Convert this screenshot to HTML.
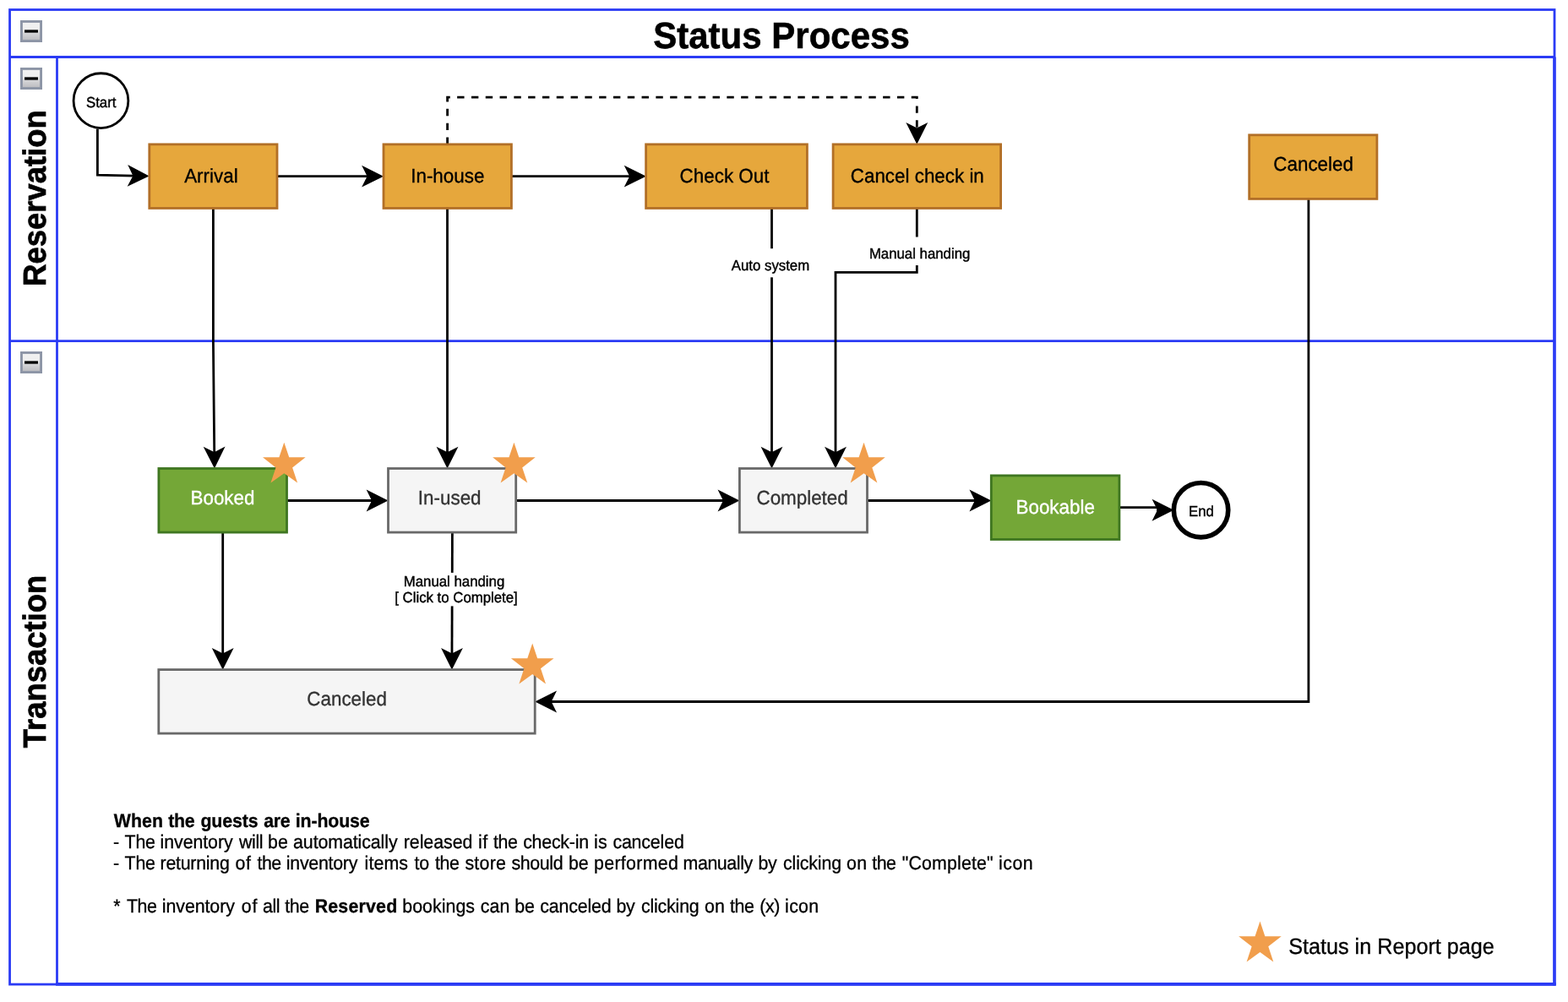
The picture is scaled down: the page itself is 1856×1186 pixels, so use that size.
<!DOCTYPE html>
<html lang="en"><head><meta charset="utf-8"><title>Status Process</title>
<style>html,body{margin:0;padding:0;background:#ffffff;overflow:hidden}svg{display:block;will-change:transform}text{font-family:"Liberation Sans", Arial, Helvetica, sans-serif;text-rendering:geometricPrecision}</style>
</head><body>
<svg xmlns="http://www.w3.org/2000/svg" width="1856" height="1186" viewBox="0 0 1856 1186">
<defs><linearGradient id="ig" x1="0" y1="0" x2="0" y2="1"><stop offset="0" stop-color="#f1f1f1"/><stop offset="0.35" stop-color="#efefef"/><stop offset="0.6" stop-color="#d6d6d8"/><stop offset="1" stop-color="#bebec2"/></linearGradient></defs>
<rect x="0" y="0" width="1856" height="1186" fill="#ffffff"/>
<g fill="none" stroke="#2b3bf5" stroke-width="2.8">
<rect x="11.55" y="11.5" width="1828.45" height="1153.6"/>
<path d="M11.55 67.5 H1840.6 M11.55 403.7 H1840 M67.5 67.5 V1165.1"/>
<path d="M1839.95 67.5 V1166.6" stroke-width="3.5"/>
<path d="M66.1 1164.85 H1841.7" stroke-width="3.6"/>
</g>
<g transform="translate(24 24)">
<rect x="0" y="0" width="26" height="26" fill="#8d95a6"/>
<rect x="2.89" y="2.89" width="20.22" height="20.22" fill="url(#ig)"/>
<rect x="5.06" y="11.35" width="15.89" height="3.29" fill="#000"/>
</g>
<g transform="translate(24 80)">
<rect x="0" y="0" width="26" height="26" fill="#8d95a6"/>
<rect x="2.89" y="2.89" width="20.22" height="20.22" fill="url(#ig)"/>
<rect x="5.06" y="11.35" width="15.89" height="3.29" fill="#000"/>
</g>
<g transform="translate(24 416)">
<rect x="0" y="0" width="26" height="26" fill="#8d95a6"/>
<rect x="2.89" y="2.89" width="20.22" height="20.22" fill="url(#ig)"/>
<rect x="5.06" y="11.35" width="15.89" height="3.29" fill="#000"/>
</g>
<text transform="translate(925 56.9) scale(1 1.04)" font-size="42" fill="#000" text-anchor="middle" font-weight="bold" stroke="#000" stroke-width="0.6">Status Process</text>
<text transform="translate(53.8 234.5) rotate(-90) scale(1 1.04)" font-size="36.4" font-weight="bold" text-anchor="middle" stroke="#000" stroke-width="0.7">Reservation</text>
<text transform="translate(53.8 783.0) rotate(-90) scale(1 1.04)" font-size="36.4" font-weight="bold" text-anchor="middle" stroke="#000" stroke-width="0.7">Transaction</text>
<path d="M115.4 152.5 L115.4 207.2 L158.97 208.05" fill="none" stroke="#000" stroke-width="2.8" stroke-miterlimit="10"/>
<path d="M173.67 208.34 L153.88 217.75 L158.97 208.05 L154.27 198.16 Z" fill="#000" stroke="#000" stroke-width="2.8" stroke-miterlimit="10"/>
<path d="M328 208.65 L436.17 208.65" fill="none" stroke="#000" stroke-width="2.8" stroke-miterlimit="10"/>
<path d="M450.87 208.65 L431.27 218.45 L436.17 208.65 L431.27 198.85 Z" fill="#000" stroke="#000" stroke-width="2.8" stroke-miterlimit="10"/>
<path d="M605.4 208.65 L746.77 208.65" fill="none" stroke="#000" stroke-width="2.8" stroke-miterlimit="10"/>
<path d="M761.47 208.65 L741.87 218.45 L746.77 208.65 L741.87 198.85 Z" fill="#000" stroke="#000" stroke-width="2.8" stroke-miterlimit="10"/>
<path d="M529.6 170.85 L529.6 115.2 L1085.3 115.2 L1085.3 153.02" fill="none" stroke="#000" stroke-width="2.8" stroke-miterlimit="10" stroke-dasharray="8.4 8.4"/>
<path d="M1085.3 167.72 L1075.5 148.12 L1085.3 153.02 L1095.1 148.12 Z" fill="#000" stroke="#000" stroke-width="2.8" stroke-miterlimit="10"/>
<path d="M252.4 246.45 L252.4 403.7 L253.72 536.67" fill="none" stroke="#000" stroke-width="2.8" stroke-miterlimit="10"/>
<path d="M253.87 551.37 L243.87 531.87 L253.72 536.67 L263.47 531.67 Z" fill="#000" stroke="#000" stroke-width="2.8" stroke-miterlimit="10"/>
<path d="M529.5 246.45 L529.5 536.67" fill="none" stroke="#000" stroke-width="2.8" stroke-miterlimit="10"/>
<path d="M529.5 551.37 L519.7 531.77 L529.5 536.67 L539.3 531.77 Z" fill="#000" stroke="#000" stroke-width="2.8" stroke-miterlimit="10"/>
<path d="M913.5 246.45 L913.5 536.67" fill="none" stroke="#000" stroke-width="2.8" stroke-miterlimit="10"/>
<path d="M913.5 551.37 L903.7 531.77 L913.5 536.67 L923.3 531.77 Z" fill="#000" stroke="#000" stroke-width="2.8" stroke-miterlimit="10"/>
<path d="M1085.3 246.45 L1085.3 322.3 L989 322.3 L989 536.67" fill="none" stroke="#000" stroke-width="2.8" stroke-miterlimit="10"/>
<path d="M989 551.37 L979.2 531.77 L989 536.67 L998.8 531.77 Z" fill="#000" stroke="#000" stroke-width="2.8" stroke-miterlimit="10"/>
<path d="M1548.9 235.4 L1548.9 830.5 L651.03 830.5" fill="none" stroke="#000" stroke-width="2.8" stroke-miterlimit="10"/>
<path d="M636.33 830.5 L655.93 820.7 L651.03 830.5 L655.93 840.3 Z" fill="#000" stroke="#000" stroke-width="2.8" stroke-miterlimit="10"/>
<path d="M339.5 592.5 L441.67 592.5" fill="none" stroke="#000" stroke-width="2.8" stroke-miterlimit="10"/>
<path d="M456.37 592.5 L436.77 602.3 L441.67 592.5 L436.77 582.7 Z" fill="#000" stroke="#000" stroke-width="2.8" stroke-miterlimit="10"/>
<path d="M610.7 592.5 L857.57 592.5" fill="none" stroke="#000" stroke-width="2.8" stroke-miterlimit="10"/>
<path d="M872.27 592.5 L852.67 602.3 L857.57 592.5 L852.67 582.7 Z" fill="#000" stroke="#000" stroke-width="2.8" stroke-miterlimit="10"/>
<path d="M1026.5 592.5 L1155.47 592.5" fill="none" stroke="#000" stroke-width="2.8" stroke-miterlimit="10"/>
<path d="M1170.17 592.5 L1150.57 602.3 L1155.47 592.5 L1150.57 582.7 Z" fill="#000" stroke="#000" stroke-width="2.8" stroke-miterlimit="10"/>
<path d="M1324.9 600.6 L1370.5 600.6 L1370.5 603.7 L1371.57 603.7" fill="none" stroke="#000" stroke-width="2.8" stroke-miterlimit="10"/>
<path d="M1386.27 603.7 L1366.67 613.5 L1371.57 603.7 L1366.67 593.9 Z" fill="#000" stroke="#000" stroke-width="2.8" stroke-miterlimit="10"/>
<path d="M263.7 630.1 L263.7 774.97" fill="none" stroke="#000" stroke-width="2.8" stroke-miterlimit="10"/>
<path d="M263.7 789.67 L253.9 770.07 L263.7 774.97 L273.5 770.07 Z" fill="#000" stroke="#000" stroke-width="2.8" stroke-miterlimit="10"/>
<path d="M535.4 630.1 L534.95 774.97" fill="none" stroke="#000" stroke-width="2.8" stroke-miterlimit="10"/>
<path d="M534.91 789.67 L525.17 770.04 L534.95 774.97 L544.77 770.1 Z" fill="#000" stroke="#000" stroke-width="2.8" stroke-miterlimit="10"/>
<rect x="865" y="294.2" width="95" height="34.1" fill="#ffffff"/>
<rect x="1028" y="280.5" width="121" height="33.5" fill="#ffffff"/>
<rect x="466" y="677.9" width="148" height="39.5" fill="#ffffff"/>
<text transform="translate(912 320) scale(1 1.04)" font-size="16.8" fill="#000" text-anchor="middle" stroke="#000" stroke-width="0.4">Auto system</text>
<text transform="translate(1088.6 306) scale(1 1.04)" font-size="16.8" fill="#000" text-anchor="middle" stroke="#000" stroke-width="0.4">Manual handing</text>
<text transform="translate(537.5 694) scale(1 1.04)" font-size="16.8" fill="#000" text-anchor="middle" stroke="#000" stroke-width="0.4">Manual handing</text>
<text transform="translate(540 713) scale(1 1.04)" font-size="16.8" fill="#000" text-anchor="middle" stroke="#000" stroke-width="0.4">[ Click to Complete]</text>
<rect x="176.8" y="170.85" width="151.2" height="75.6" fill="#e6a73c" stroke="#b26f26" stroke-width="2.8"/>
<text transform="translate(249.9 215.7) scale(1 1.04)" font-size="22.4" fill="#000" text-anchor="middle" stroke="#000" stroke-width="0.32">Arrival</text>
<rect x="454" y="170.85" width="151.4" height="75.6" fill="#e6a73c" stroke="#b26f26" stroke-width="2.8"/>
<text transform="translate(529.8 215.7) scale(1 1.04)" font-size="22.4" fill="#000" text-anchor="middle" stroke="#000" stroke-width="0.32">In-house</text>
<rect x="764.6" y="170.85" width="190.8" height="75.6" fill="#e6a73c" stroke="#b26f26" stroke-width="2.8"/>
<text transform="translate(857.5 215.7) scale(1 1.04)" font-size="22.4" fill="#000" text-anchor="middle" stroke="#000" stroke-width="0.32">Check Out</text>
<rect x="986.1" y="170.85" width="198.5" height="75.6" fill="#e6a73c" stroke="#b26f26" stroke-width="2.8"/>
<text transform="translate(1085.8 215.7) scale(1 1.04)" font-size="22.4" fill="#000" text-anchor="middle" stroke="#000" stroke-width="0.32">Cancel check in</text>
<rect x="1478.7" y="159.8" width="151.2" height="75.6" fill="#e6a73c" stroke="#b26f26" stroke-width="2.8"/>
<text transform="translate(1554.6 201.6) scale(1 1.04)" font-size="22.4" fill="#000" text-anchor="middle" stroke="#000" stroke-width="0.32">Canceled</text>
<rect x="187.9" y="554.5" width="151.6" height="75.6" fill="#74a737" stroke="#3f7621" stroke-width="2.8"/>
<text transform="translate(263.5 596.6) scale(1 1.04)" font-size="22.4" fill="#fff" text-anchor="middle" stroke="#fff" stroke-width="0.32">Booked</text>
<rect x="459.5" y="554.5" width="151.2" height="75.6" fill="#f5f5f5" stroke="#696969" stroke-width="2.8"/>
<text transform="translate(532.2 596.6) scale(1 1.04)" font-size="22.4" fill="#333" text-anchor="middle" stroke="#333" stroke-width="0.32">In-used</text>
<rect x="875.4" y="554.5" width="151.1" height="75.6" fill="#f5f5f5" stroke="#696969" stroke-width="2.8"/>
<text transform="translate(949.6 596.6) scale(1 1.04)" font-size="22.4" fill="#333" text-anchor="middle" stroke="#333" stroke-width="0.32">Completed</text>
<rect x="1173.3" y="562.9" width="151.6" height="75.6" fill="#74a737" stroke="#3f7621" stroke-width="2.8"/>
<text transform="translate(1249.2 607.8) scale(1 1.04)" font-size="22.4" fill="#fff" text-anchor="middle" stroke="#fff" stroke-width="0.32">Bookable</text>
<rect x="187.8" y="792.6" width="445.4" height="75.5" fill="#f5f5f5" stroke="#696969" stroke-width="2.8"/>
<text transform="translate(410.6 834.6) scale(1 1.04)" font-size="22.4" fill="#333" text-anchor="middle" stroke="#333" stroke-width="0.32">Canceled</text>
<circle cx="119.45" cy="119.15" r="32.4" fill="#fff" stroke="#000" stroke-width="2.8"/>
<text transform="translate(119.7 126.8) scale(1 1.04)" font-size="16.8" fill="#000" text-anchor="middle" stroke="#000" stroke-width="0.4">Start</text>
<circle cx="1421.55" cy="603.7" r="32.2" fill="#fff" stroke="#000" stroke-width="5.6"/>
<text transform="translate(1421.9 610.5) scale(1 1.04)" font-size="16.8" fill="#000" text-anchor="middle" stroke="#000" stroke-width="0.4">End</text>
<polygon points="336.3,523.65 342.22,541.37 361.6,541.37 346.12,553.38 352.14,571.6 336.3,560.24 320.46,571.6 326.48,553.38 311,541.37 330.38,541.37" fill="#f19e4c"/>
<polygon points="608.4,523.65 614.32,541.37 633.7,541.37 618.22,553.38 624.24,571.6 608.4,560.24 592.56,571.6 598.58,553.38 583.1,541.37 602.48,541.37" fill="#f19e4c"/>
<polygon points="1022.5,523.65 1028.42,541.37 1047.8,541.37 1032.32,553.38 1038.34,571.6 1022.5,560.24 1006.66,571.6 1012.68,553.38 997.2,541.37 1016.58,541.37" fill="#f19e4c"/>
<polygon points="630.2,761.5 636.12,779.22 655.5,779.22 640.02,791.23 646.04,809.45 630.2,798.09 614.36,809.45 620.38,791.23 604.9,779.22 624.28,779.22" fill="#f19e4c"/>
<polygon points="1491.45,1090.5 1497.37,1108.22 1516.75,1108.22 1501.27,1120.23 1507.29,1138.45 1491.45,1127.09 1475.61,1138.45 1481.63,1120.23 1466.15,1108.22 1485.53,1108.22" fill="#f19e4c"/>
<text transform="translate(1525.2 1128.5) scale(1 1.04)" font-size="25.2" fill="#000" text-anchor="start" stroke="#000" stroke-width="0.32">Status in Report page</text>
<text transform="translate(0 978.75) scale(1 1.05)" font-size="21.33" fill="#000" stroke="#000" stroke-width="0.3"><tspan x="134.73" font-weight="bold" letter-spacing="0.05">When</tspan> <tspan x="199.34" font-weight="bold" letter-spacing="-0.4">the</tspan> <tspan x="237.43" font-weight="bold" letter-spacing="-0.1">guests</tspan> <tspan x="312.28" font-weight="bold" letter-spacing="-0.39">are</tspan> <tspan x="349.71" font-weight="bold" letter-spacing="-0.12">in-house</tspan></text>
<text transform="translate(0 1003.75) scale(1 1.05)" font-size="21.33" fill="#000" stroke="#000" stroke-width="0.3"><tspan x="133.97">-</tspan> <tspan x="147.52" letter-spacing="-0.16">The</tspan> <tspan x="189.57" letter-spacing="-0.06">inventory</tspan> <tspan x="283.12" letter-spacing="-0.4">will</tspan> <tspan x="316.93" letter-spacing="0.3">be</tspan> <tspan x="347.09" letter-spacing="-0.08">automatically</tspan> <tspan x="477.68">released</tspan> <tspan x="565.89" letter-spacing="0.7">if</tspan> <tspan x="584.04" letter-spacing="-0.4">the</tspan> <tspan x="619.19" letter-spacing="-0.23">check-in</tspan> <tspan x="702.97" letter-spacing="0.19">is</tspan> <tspan x="725.39" letter-spacing="-0.14">canceled</tspan></text>
<text transform="translate(0 1028.75) scale(1 1.05)" font-size="21.33" fill="#000" stroke="#000" stroke-width="0.3"><tspan x="133.97">-</tspan> <tspan x="147.52" letter-spacing="-0.16">The</tspan> <tspan x="189.58" letter-spacing="-0.24">returning</tspan> <tspan x="278.54" letter-spacing="0.7">of</tspan> <tspan x="304.39" letter-spacing="-0.4">the</tspan> <tspan x="338.77" letter-spacing="-0.24">inventory</tspan> <tspan x="431.57" letter-spacing="0.13">items</tspan> <tspan x="490.38" letter-spacing="0.03">to</tspan> <tspan x="514.99" letter-spacing="-0.4">the</tspan> <tspan x="550.41" letter-spacing="0.28">store</tspan> <tspan x="605.41" letter-spacing="-0.34">should</tspan> <tspan x="672.93" letter-spacing="-0.1">be</tspan> <tspan x="703.03" letter-spacing="0.32">performed</tspan> <tspan x="808.58" letter-spacing="-0.4">manually</tspan> <tspan x="897.62" letter-spacing="-0.4">by</tspan> <tspan x="926.99" letter-spacing="-0.12">clicking</tspan> <tspan x="1002.1" letter-spacing="0.26">on</tspan> <tspan x="1032.14" letter-spacing="-0.4">the</tspan> <tspan x="1067.79" letter-spacing="0.15">&quot;Complete&quot;</tspan> <tspan x="1182.07" letter-spacing="0.48">icon</tspan></text>
<text transform="translate(0 1079.8) scale(1 1.05)" font-size="21.33" fill="#000" stroke="#000" stroke-width="0.3"><tspan x="134.17">*</tspan> <tspan x="149.92" letter-spacing="-0.36">The</tspan> <tspan x="191.87" letter-spacing="-0.07">inventory</tspan> <tspan x="285.84" letter-spacing="0.7">of</tspan> <tspan x="310.94" letter-spacing="-0.4">all</tspan> <tspan x="337.19" letter-spacing="-0.4">the</tspan> <tspan x="372.67" font-weight="bold" letter-spacing="0.21">Reserved</tspan> <tspan x="476.23" letter-spacing="0.06">bookings</tspan> <tspan x="568.84" letter-spacing="0.03">can</tspan> <tspan x="609.33" letter-spacing="-0.2">be</tspan> <tspan x="639.19" letter-spacing="-0.14">canceled</tspan> <tspan x="729.62" letter-spacing="-0.4">by</tspan> <tspan x="758.99" letter-spacing="-0.17">clicking</tspan> <tspan x="834" letter-spacing="0.26">on</tspan> <tspan x="864.04" letter-spacing="-0.4">the</tspan> <tspan x="899.21" letter-spacing="-0.4">(x)</tspan> <tspan x="929.07" letter-spacing="0.33">icon</tspan></text>
</svg></body></html>
